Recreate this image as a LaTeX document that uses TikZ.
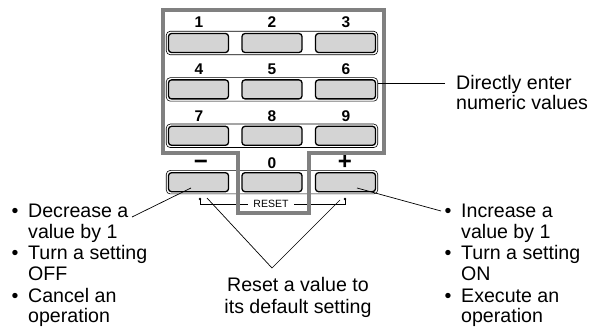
\documentclass[tikz,border=0pt]{standalone}
\usepackage{fontspec}
\setmainfont{Liberation Sans}
\definecolor{keygray}{RGB}{212,212,212}
\definecolor{framegray}{RGB}{128,128,128}
\begin{document}
\begin{tikzpicture}[x=1pt,y=-1pt,
  rowbox/.style={draw, line width=0.6pt, rounded corners=4pt, minimum width=211.5pt, minimum height=23.5pt, inner sep=0pt},
  keybox/.style={draw, line width=1.3pt, rounded corners=3pt, fill=keygray, minimum width=60pt, minimum height=19pt, inner sep=0pt},
  numlabel/.style={font=\fontsize{15.5}{16}\selectfont\bfseries, anchor=base, inner sep=0pt},
  signlabel/.style={font=\fontsize{24}{24}\selectfont\bfseries, anchor=base, inner sep=0pt},
  txt/.style={font=\fontsize{19.6}{20.5}\selectfont, inner sep=0pt, anchor=base west},
  ctxt/.style={font=\fontsize{19.6}{20.5}\selectfont, inner sep=0pt, anchor=base},
  bul/.style={font=\fontsize{19.6}{20.5}\selectfont, inner sep=0pt, anchor=base},
  leader/.style={draw, line width=0.7pt},
  frame/.style={draw=framegray, line width=3.8pt, line join=miter}
]
\useasboundingbox (0,0) rectangle (598,334);

% rows and keys
\foreach \r/\yy in {1/43, 2/89.4, 3/135.8, 4/182.2}
  \node[rowbox] (r\r) at (272,\yy) {};
\foreach \n/\xx/\yy in {1/198.5/43, 2/272/43, 3/345.5/43,
                        4/198.5/89.4, 5/272/89.4, 6/345.5/89.4,
                        7/198.5/135.8, 8/272/135.8, 9/345.5/135.8,
                        m/198.5/182.2, 0/272/182.2, p/345.5/182.2}
  \node[keybox] (b\n) at (\xx,\yy) {};

% key numbers
\foreach \t/\xx/\yy [count=\i] in {1/199/28, 2/272/28, 3/346/28,
                       4/199/75, 5/272/75, 6/346/75,
                       7/199/122, 8/272/122, 9/346/122,
                       0/272/169}
  \node[numlabel] (n\i) at (\xx,\yy) {\t};
\node[signlabel] (nminus) at (201,170) {−};
\node[signlabel] (nplus) at (345,170) {+};

% RESET bracket
\coordinate (rl) at (200,199);
\coordinate (rr) at (345,199);
\fill (rl) circle (1.4pt);
\fill (rr) circle (1.4pt);
\draw[line width=0.6pt] (rl) -- ++(0,5) -| (rr);
\node[fill=white, font=\fontsize{10.5}{11}\selectfont, inner xsep=5pt, inner ysep=1pt] (reset) at (271,204) {RESET};

% gray frame
\draw[frame] (163,10.3) -- (384,10.3) -- (384,153) -- (309,153) -- (309,213)
  -- (238,213) -- (238,153) -- (163,153) -- cycle;

% directly enter
\node[txt] (d1) at (456,90) {Directly enter};
\node[txt] (d2) at (456,110) {numeric values};
\coordinate (dline) at (445,83);
\draw[leader] (dline) -- (r2.east |- dline);

% left list
\foreach \t/\yy [count=\i] in {Decrease a/218, value by 1/238.5, Turn a setting/260, OFF/280.5, Cancel an/302, operation/322.5}
  \node[txt] (L\i) at (28,\yy) {\t};
\foreach \yy [count=\i] in {218,260,302}
  \node[bul] (LB\i) at (15,\yy) {•};

% right list
\foreach \t/\yy [count=\i] in {Increase a/218, value by 1/238.5, Turn a setting/260, ON/280.5, Execute an/302, operation/322.5}
  \node[txt] (R\i) at (461,\yy) {\t};
\foreach \yy [count=\i] in {218,260,302}
  \node[bul] (RB\i) at (448,\yy) {•};

% reset text
\node[ctxt] (c1) at (298,292) {Reset a value to};
\node[ctxt] (c2) at (298,313) {its default setting};

% leader lines
\coordinate (lstart) at (132,217);
\coordinate (lend) at (191,188);
\draw[leader] (lstart) -- (lend);
\coordinate (rstart) at (441,211);
\coordinate (rend) at (357,188);
\draw[leader] (rstart) -- (rend);
\coordinate (apex) at (272,268);
\coordinate (rla) at (207,198);
\coordinate (rra) at (340,200);
\draw[leader] (rla) -- (apex) -- (rra);
\end{tikzpicture}
\end{document}
